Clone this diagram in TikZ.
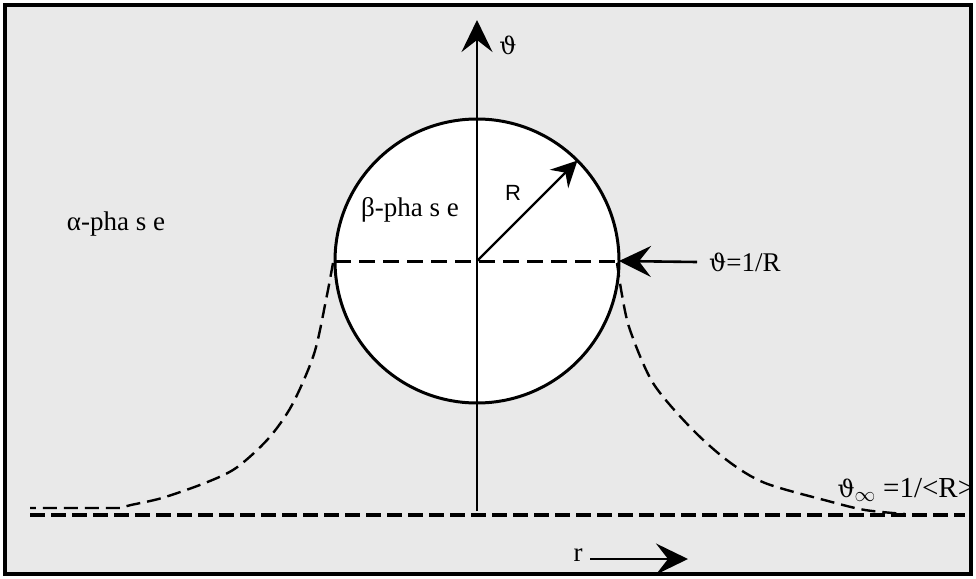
\documentclass[tikz,border=0pt]{standalone}
\usepackage{fontspec}
\setmainfont{Liberation Serif}
\setsansfont{Liberation Sans}
\newfontfamily\grkfont{DejaVu Serif}
\usetikzlibrary{arrows.meta}
\definecolor{bggray}{RGB}{233,233,233}
\newcommand{\thvar}{{\grkfont\fontsize{24}{28}\selectfont ϑ}}

\begin{document}
\begin{tikzpicture}[x=1pt, y=-1pt, font=\fontsize{27}{30}\selectfont,
  curve/.style={line width=2.4pt, dash pattern=on 14pt off 7pt},
  base/.style={line width=3.5pt, dash pattern=on 15pt off 6pt},
  arr/.style={line width=2.6pt, -{Stealth[length=32pt, width=31pt, inset=12pt]}}]
\useasboundingbox (0,0) rectangle (976,578);
\fill[bggray] (5,5) rectangle (971,574);
% beta droplet
\node[circle, draw, line width=3pt, fill=white, minimum size=284pt, inner sep=0, outer sep=0] (beta) at (477,261) {};
\draw[line width=3pt, dash pattern=on 16pt off 8pt] (beta.west) -- (beta.east);
% concentration profile
\draw[curve] plot[smooth] coordinates {(333,263) (326,300) (314,354) (292,405) (268,439) (236,468) (205,483) (162,498) (131,505) (120,508)} -- (30,508);
\draw[curve] plot[smooth] coordinates {(617,263) (622,295) (630,330) (653,383) (691,428) (728,461) (765,483) (828,501) (865,510) (905,514)};
\draw[base] (30,515) -- (965,515);
% axes
\coordinate (axbot) at (477,511);
\coordinate (axtop) at (477,20);
\draw[arr, line width=2.4pt] (axbot) -- (axtop);
\node (theta) at (508,45) {\thvar};
\draw[arr, line width=2.4pt, -{Stealth[length=26pt, width=26pt, inset=9pt]}] (beta.center) -- (beta.45);
\node[font=\sffamily\fontsize{22}{24}\selectfont] (rlab) at (513,193) {R};
% labels
\node (blab) at (410,210) {β-pha s e};
\node (alab) at (116,224) {α-pha s e};
\node[anchor=west, inner xsep=12pt] (eqlab) at (697,262) {\thvar=1/R};
\draw[arr] (eqlab.west) -- (beta.east);
\node[anchor=west, font=\fontsize{29}{32}\selectfont] (inflab) at (834,490) {\thvar$_{\infty}$ =1/<R>};
\node (rvar) at (578,555) {r};
\coordinate (rtip) at (688,559);
\draw[arr] ([xshift=4pt]rvar.east |- rtip) -- (rtip);
\draw[line width=3.5pt] (5,5) rectangle (971,574);
\end{tikzpicture}
\end{document}
